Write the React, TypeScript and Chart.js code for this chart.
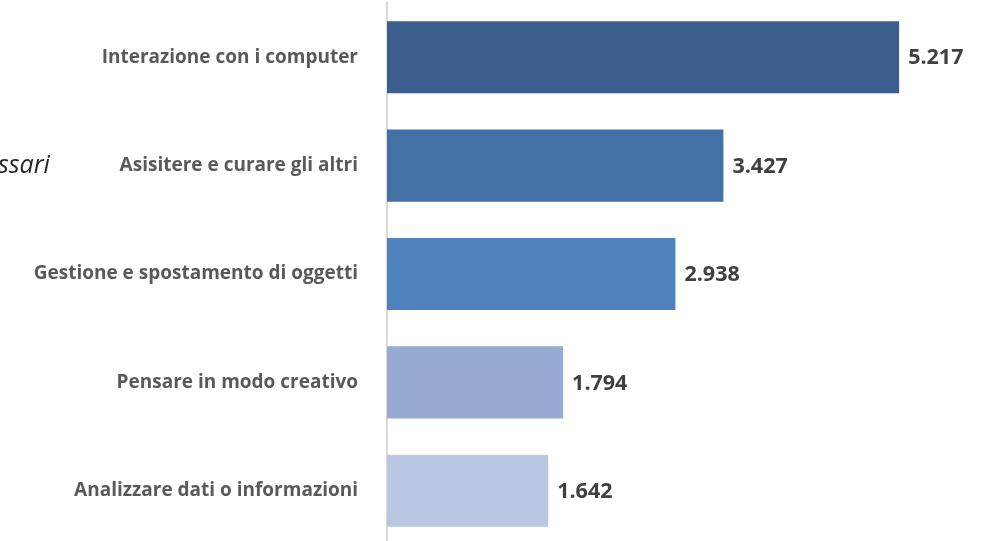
import React, { useEffect, useRef } from "react";
import { Chart, registerables } from "chart.js";

Chart.register(...registerables);

const categories: string[] = [
  "Interazione con i computer",
  "Asisitere e curare gli altri",
  "Gestione e spostamento di oggetti",
  "Pensare in modo creativo",
  "Analizzare dati o informazioni",
];
const values: number[] = [5217, 3427, 2938, 1794, 1642];
const barColors: string[] = ["#3B5E8C", "#4471A5", "#4F81BD", "#95ABD3", "#B9C7E2"];
const titleFragment = "ssari";

const valueLabels = {
  id: "valueLabels",
  afterDatasetsDraw(chart: any) {
    const { ctx } = chart;
    const meta = chart.getDatasetMeta(0);
    ctx.save();
    ctx.font = "bold 21.5px 'Open Sans', sans-serif";
    ctx.fillStyle = "#404040";
    ctx.textAlign = "left";
    ctx.textBaseline = "middle";
    meta.data.forEach((el: any, i: number) => {
      const v = chart.data.datasets[0].data[i] as number;
      ctx.fillText(v.toLocaleString("it-IT"), el.x + 9, el.y + 1);
    });
    ctx.restore();
  },
};

export default function App() {
  const ref = useRef<HTMLCanvasElement | null>(null);
  useEffect(() => {
    if (!ref.current) return;
    const chart = new Chart(ref.current, {
      type: "bar",
      data: {
        labels: categories,
        datasets: [
          {
            data: values,
            backgroundColor: barColors,
            borderWidth: 0,
            barPercentage: 0.665,
            categoryPercentage: 1,
          },
        ],
      },
      options: {
        indexAxis: "y",
        animation: false,
        responsive: false,
        devicePixelRatio: 1,
        layout: { padding: { top: 3, right: 16, bottom: 0, left: 0 } },
        plugins: { legend: { display: false }, tooltip: { enabled: false } },
        scales: {
          x: { display: false, min: 0, max: 6000 },
          y: {
            afterFit: (s: any) => {
              s.width = 387;
              s.paddingTop = 0;
              s.paddingBottom = 0;
            },
            grid: { display: false, drawTicks: false },
            border: { display: true, color: "#D9D9D9", width: 2 },
            ticks: {
              padding: 29,
              color: "#595959",
              font: { family: "'Open Sans', sans-serif", size: 19, weight: "bold" },
            },
          },
        },
      },
      plugins: [valueLabels],
    });
    return () => chart.destroy();
  }, []);
  return (
    <div style={{ position: "fixed", left: 0, top: 0, width: 992, height: 541, overflow: "hidden", background: "#fff" }}>
      <canvas ref={ref} width={992} height={545} style={{ display: "block", width: 992, height: 545 }} />
      <span
        style={{
          position: "absolute",
          left: -2,
          top: 146,
          fontFamily: "'Open Sans', sans-serif",
          fontStyle: "italic",
          fontSize: 25,
          color: "#262626",
          lineHeight: "34px",
        }}
      >
        {titleFragment}
      </span>
    </div>
  );
}
